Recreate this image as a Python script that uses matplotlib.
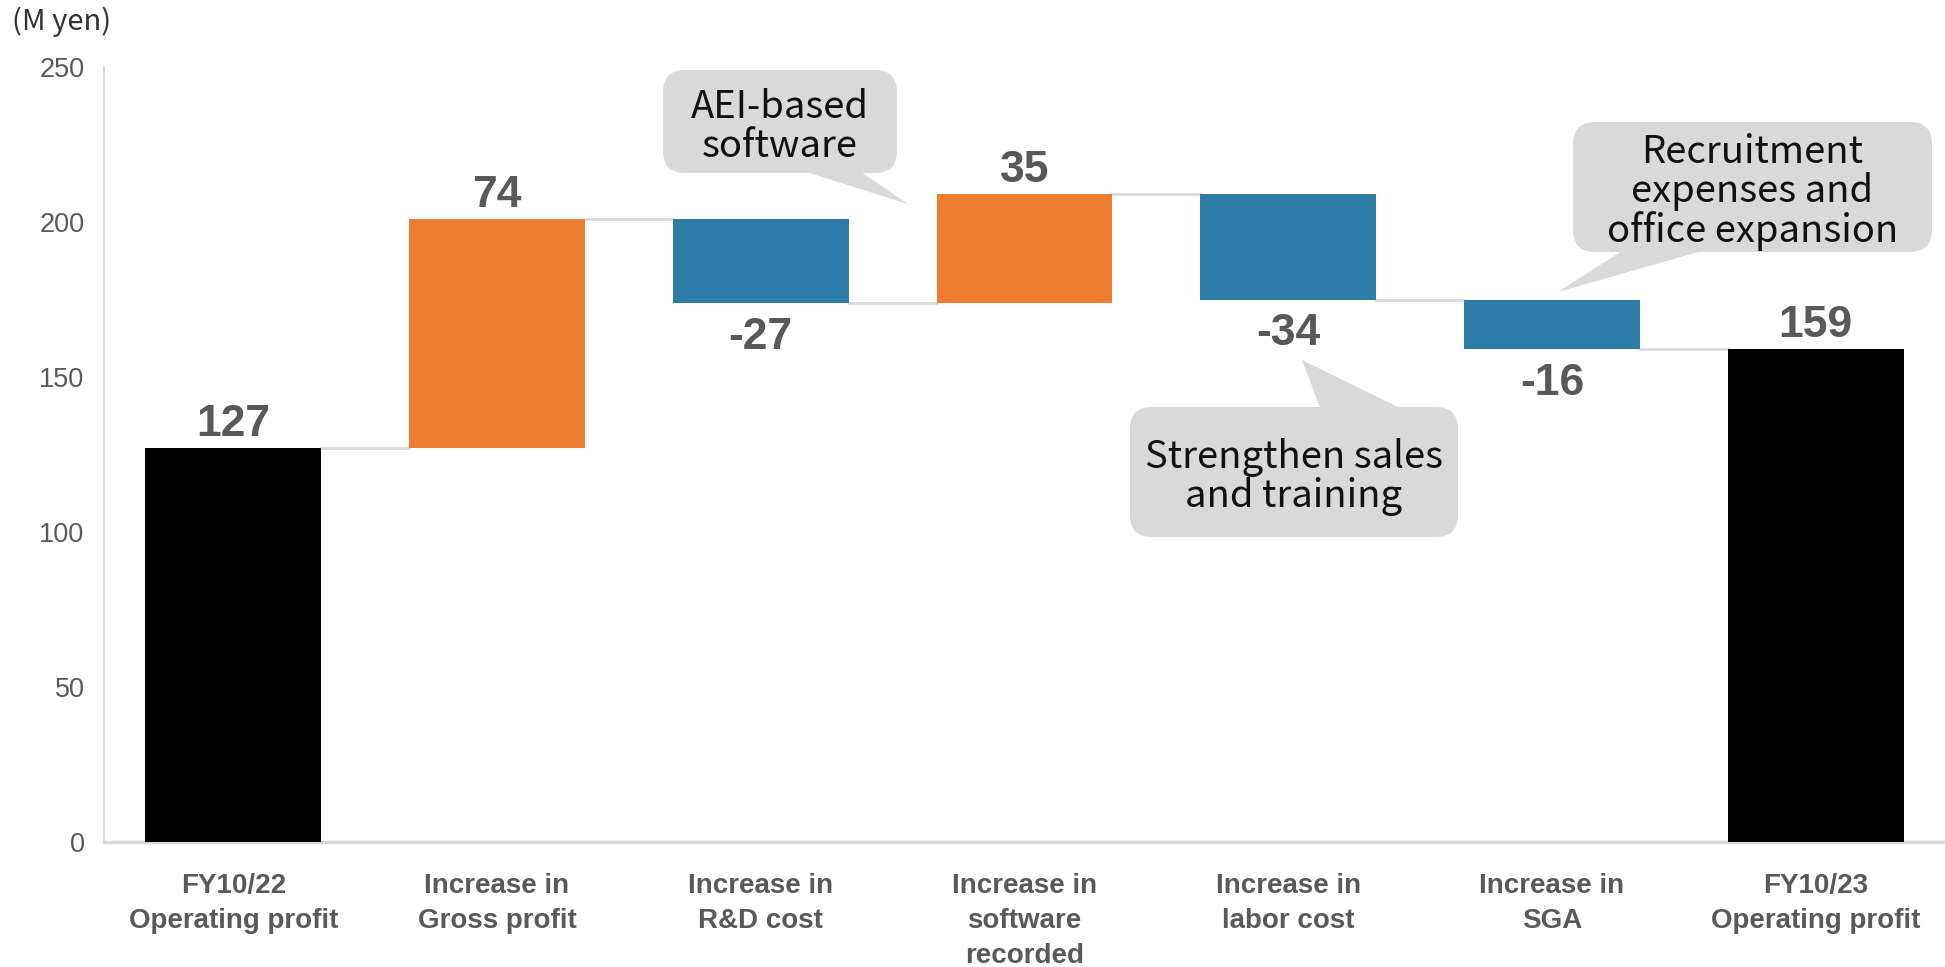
import matplotlib
matplotlib.use('Agg')
import matplotlib.pyplot as plt
from matplotlib.patches import FancyBboxPatch, Polygon

# dados do grafico (M yen)
categorias = ['FY10/22\nOperating profit', 'Increase in\nGross profit', 'Increase in\nR&D cost',
              'Increase in\nsoftware\nrecorded', 'Increase in\nlabor cost', 'Increase in\nSGA',
              'FY10/23\nOperating profit']
valores = [127, 74, -27, 35, -34, -16, 159]
tipos = ['total', 'delta', 'delta', 'delta', 'delta', 'delta', 'total']
yticks = [0, 50, 100, 150, 200, 250]

notas = ['AEI-based\nsoftware', 'Recruitment\nexpenses and\noffice expansion', 'Strengthen sales\nand training']

LARANJA = '#ED7D31'
AZUL = '#2E7DA8'
CINZA_TXT = '#595959'
CINZA_LINHA = '#D9D9D9'
FONTE_NUM = 'Liberation Sans'
FONTE_JP = ['Noto Sans CJK JP', 'DejaVu Sans']

W, H = 19.45, 9.67


def fig_px(x, y):
    # pixel (origem no topo) -> polegadas
    return (x / 100, (H * 100 - y) / 100)


def balao(fig, caixa, base, ponta, texto, tam=27.5):
    x0, y0, x1, y1 = caixa
    px0, py1 = fig_px(x0, y0)
    px1, py0 = fig_px(x1, y1)
    box = FancyBboxPatch((px0, py0), px1 - px0, py1 - py0,
                         boxstyle='round,pad=0,rounding_size=0.22',
                         transform=fig.dpi_scale_trans, facecolor=CINZA_LINHA,
                         edgecolor='none', zorder=5)
    fig.add_artist(box)
    tri = Polygon([fig_px(*base[0]), fig_px(*base[1]), fig_px(*ponta)],
                  closed=True, transform=fig.dpi_scale_trans,
                  facecolor=CINZA_LINHA, edgecolor='none', zorder=5)
    fig.add_artist(tri)
    cx, cy = fig_px((x0 + x1) / 2, (y0 + y1) / 2 + 5)
    fig.text(cx / W, cy / H, texto, ha='center', va='center', fontsize=tam,
             family=FONTE_JP, color='#111111', linespacing=1.0, zorder=6)


fig = plt.figure(figsize=(W, H), dpi=100)
ax = fig.add_axes([104 / 1945, 1 - 842 / 967, 1 - 104 / 1945, (842 - 67) / 967])

largura = 0.667
acumulado = 0
niveis = []
for i, (v, t) in enumerate(zip(valores, tipos)):
    if t == 'total':
        base, altura, cor = 0, v, 'black'
        acumulado = v
        topo_label, va = v, 'bottom'
    else:
        novo = acumulado + v
        base, altura = min(acumulado, novo), abs(v)
        cor = LARANJA if v > 0 else AZUL
        if v > 0:
            topo_label, va = novo, 'bottom'
        else:
            topo_label, va = novo, 'top'
        acumulado = novo
    niveis.append(acumulado)
    ax.bar(i, altura, bottom=base, width=largura, color=cor, zorder=3)
    txt = str(v)
    desloc = 1 if va == 'bottom' else -4.5
    ax.text(i, topo_label + desloc, txt, ha='center', va=va, fontsize=32,
            fontweight='bold', family=FONTE_NUM, color=CINZA_TXT, zorder=4)

# linhas de conexao
for i in range(len(valores) - 1):
    ax.plot([i + largura / 2, i + 1 - largura / 2], [niveis[i], niveis[i]],
            color=CINZA_LINHA, lw=2, zorder=2)

ax.set_xlim(-0.49, 6.49)
ax.set_ylim(0, 250)
ax.set_yticks(yticks)
ax.set_xticks(range(len(categorias)))
ax.set_xticklabels(categorias, fontsize=20, fontweight='bold', family=FONTE_NUM,
                   color=CINZA_TXT, linespacing=1.47)
for lbl in ax.get_yticklabels():
    lbl.set_family(FONTE_NUM)
ax.tick_params(axis='y', length=0, pad=14, labelsize=19.5, labelcolor=CINZA_TXT)
ax.tick_params(axis='x', length=0, pad=22)

for lado in ['top', 'right']:
    ax.spines[lado].set_visible(False)
ax.spines['left'].set_color(CINZA_LINHA)
ax.spines['left'].set_linewidth(1.5)
ax.spines['bottom'].set_color(CINZA_LINHA)
ax.spines['bottom'].set_linewidth(2.5)

fig.text(12 / 1945, 1 - 22 / 967, '(M yen)', ha='left', va='center', fontsize=21,
         family=FONTE_JP, color='#333333')

balao(fig, (663, 70, 897, 173), [(800, 170), (858, 170)], (908, 204), notas[0])
balao(fig, (1573, 122, 1932, 252), [(1625, 249), (1709, 249)], (1558, 292), notas[1])
balao(fig, (1130, 407, 1458, 537), [(1321, 410), (1404, 410)], (1302, 360), notas[2])

fig.savefig('out.png', dpi=100)
plt.close(fig)
